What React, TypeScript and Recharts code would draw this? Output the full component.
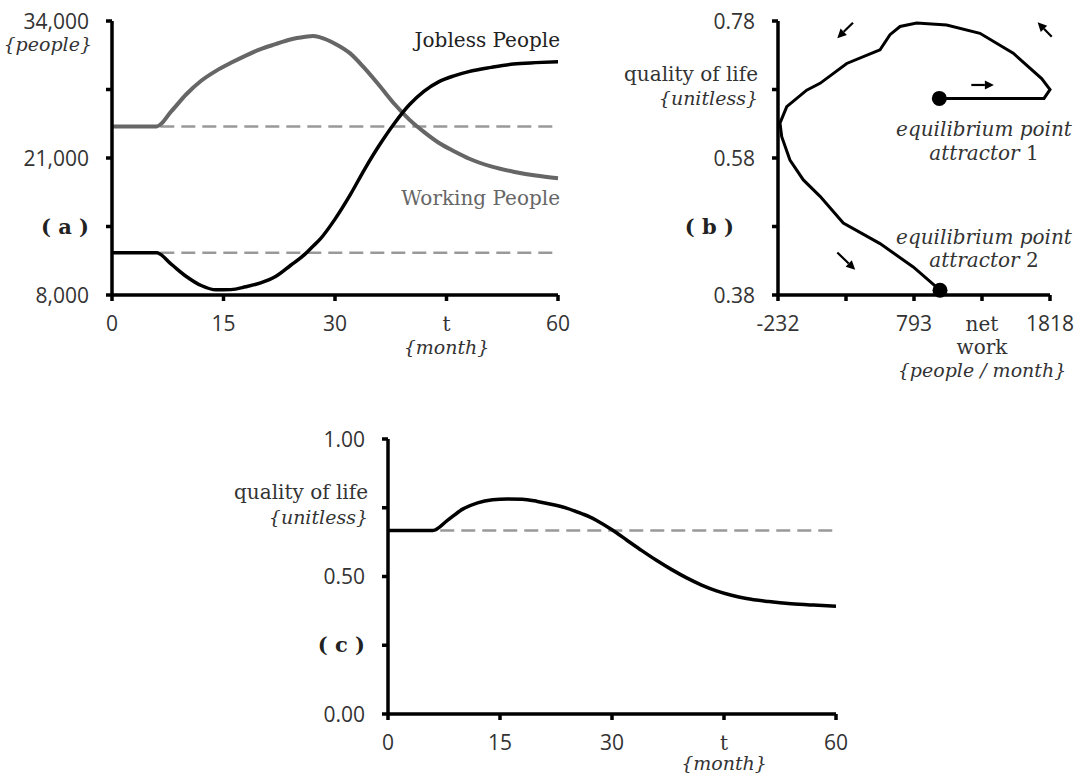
import React from 'react';
import { LineChart, ComposedChart, Line, Scatter, XAxis, YAxis, ReferenceLine } from 'recharts';

// months
const months = [0, 6, 8, 10, 12, 14, 16, 18, 20, 22, 24, 26, 27, 28, 30, 32, 34, 36, 38, 40, 42, 44, 46, 48, 51, 54, 57, 60];
const workingPeople = [24000, 24000, 25450, 27050, 28330, 29270, 30030, 30720, 31330, 31800, 32250, 32500, 32580, 32450, 31850, 30950, 29500, 27850, 26120, 24640, 23450, 22420, 21650, 20950, 20200, 19700, 19330, 19070];
const joblessPeople = [12000, 12000, 10900, 9760, 8900, 8490, 8510, 8780, 9150, 9750, 10800, 11900, 12600, 13300, 15200, 17450, 19950, 22250, 24300, 26050, 27350, 28250, 28800, 29200, 29600, 29920, 30050, 30140];
const qualityOfLife = [0.667, 0.667, 0.705, 0.745, 0.768, 0.779, 0.782, 0.781, 0.773, 0.762, 0.748, 0.728, 0.717, 0.703, 0.670, 0.632, 0.594, 0.558, 0.525, 0.495, 0.469, 0.448, 0.432, 0.420, 0.409, 0.401, 0.396, 0.392];

// phase plot (b): net work vs quality of life, in time order
const netWork = [984, 1773, 1818, 1755, 1541, 1290, 1039, 813, 688, 612, 537, 499, 286, 85, -16, -166, -217, -204, -142, -41, 85, 260, 537, 787, 989];
const qolPath = [0.667, 0.667, 0.680, 0.696, 0.733, 0.762, 0.774, 0.777, 0.772, 0.760, 0.738, 0.735, 0.718, 0.689, 0.679, 0.655, 0.631, 0.611, 0.577, 0.548, 0.524, 0.485, 0.455, 0.421, 0.387];
const attractors = [{ x: 984, y: 0.667 }, { x: 989, y: 0.387 }];
const flowArrows = [
  [[333, 0.7775], [215, 0.755]],
  [[1831, 0.757], [1725, 0.778]],
  [[1225, 0.6866], [1395, 0.6866]],
  [[215, 0.442], [350, 0.417]],
];

const monthTicks = [0, 15, 30, 45, 60];
const monthLabels = ['0', '15', '30', 't', '60'];
const peopleTicks = [8000, 14500, 21000, 27500, 34000];
const peopleLabels = ['8,000', '( a )', '21,000', '', '34,000'];
const qolTicksB = [0.38, 0.48, 0.58, 0.68, 0.78];
const qolLabelsB = ['0.38', '( b )', '0.58', '', '0.78'];
const workTicks = [-232, 280.5, 793, 1305.5, 1818];
const workLabels = ['-232', '', '793', 'net', '1818'];
const qolTicksC = [0, 0.25, 0.5, 0.75, 1];
const qolLabelsC = ['0.00', '( c )', '0.50', '', '1.00'];

const seriesData = months.map((t, i) => ({ t, working: workingPeople[i], jobless: joblessPeople[i], qol: qualityOfLife[i] }));
const pathData = netWork.map((x, i) => ({ x, y: qolPath[i] }));

const SANS = '"Open Sans", "DejaVu Sans", sans-serif';
const SERIF = '"DejaVu Serif", serif';
const INK = '#333';

const txt = (s: string, x: number, y: number, anchor: string, key?: string) => {
  if (s.startsWith('(')) {
    return <text key={key} x={x} y={y + 7} textAnchor={anchor} fontFamily={SERIF} fontWeight="bold" fontSize={21} fill="#222">{s}</text>;
  }
  if (s.startsWith('{')) {
    return <text key={key} x={x} y={y} textAnchor={anchor} fontFamily={SERIF} fontStyle="italic" fontSize={19} fill={INK}>{s}</text>;
  }
  if (/^[-0-9.,]+$/.test(s)) {
    return <text key={key} x={x} y={y} textAnchor={anchor} fontFamily={SANS} fontSize={21} fill={INK}>{s}</text>;
  }
  return <text key={key} x={x} y={y} textAnchor={anchor} fontFamily={SERIF} fontSize={20} fill={INK}>{s}</text>;
};

const yTick = (labels: string[], extra: Record<number, [string, number][]>, panelShift = 0) => (props: any) => {
  const { x, y, index } = props;
  const lbl = labels[index];
  const isPanel = lbl && lbl.startsWith('(');
  return (
    <g>
      {lbl ? txt(lbl, x - 7 + (isPanel ? panelShift : 0), isPanel ? y : y + 7.5, 'end') : null}
      {(extra[index] || []).map(([s, dy], i) => txt(s, x - 4, y + dy, 'end', 'e' + i))}
    </g>
  );
};

const xTick = (labels: string[], extra: Record<number, [string, number][]>) => (props: any) => {
  const { x, y, index } = props;
  const lbl = labels[index];
  return (
    <g>
      {lbl ? txt(lbl, x, y + 28, 'middle') : null}
      {(extra[index] || []).map(([s, dy], i) => txt(s, x, y + dy, 'middle', 'e' + i))}
    </g>
  );
};

const ArrowShape = (props: any) => {
  const { x1, y1, x2, y2 } = props;
  const a = Math.atan2(y2 - y1, x2 - x1);
  const L = 9, W = 4.5;
  const bx = x2 - L * Math.cos(a), by = y2 - L * Math.sin(a);
  const pts = `${x2},${y2} ${bx - W * Math.sin(a)},${by + W * Math.cos(a)} ${bx + W * Math.sin(a)},${by - W * Math.cos(a)}`;
  return (
    <g>
      <line x1={x1} y1={y1} x2={bx} y2={by} stroke="#000" strokeWidth={2.2} />
      <polygon points={pts} fill="#000" />
    </g>
  );
};

const axisStyle = { stroke: '#000', strokeWidth: 3.5 };
const tickStyle = { stroke: '#000', strokeWidth: 3.5 };

export default function App() {
  return (
    <div style={{ position: 'absolute', left: 0, top: 0, width: 1080, height: 776, background: '#fff' }}>
      {/* (a) people */}
      <div style={{ position: 'absolute', left: 0, top: 0 }}>
        <LineChart width={600} height={390} data={seriesData} margin={{ top: 21, right: 42, bottom: 5, left: 0 }}>
          <XAxis dataKey="t" type="number" domain={[0, 60]} ticks={monthTicks} interval={0} height={90}
            axisLine={axisStyle} tickLine={tickStyle} tickSize={6} tick={xTick(monthLabels, { 3: [['{month}', 51]] })} />
          <YAxis type="number" domain={[8000, 34000]} ticks={peopleTicks} interval={0} width={112}
            axisLine={axisStyle} tickLine={tickStyle} tickSize={6} tickMargin={10}
            tick={yTick(peopleLabels, { 4: [['{people}', 30]] })} />
          <ReferenceLine segment={[{ x: 6.5, y: 24000 }, { x: 60, y: 24000 }]} stroke="#999" strokeWidth={2.5} strokeDasharray="14 7" />
          <ReferenceLine segment={[{ x: 6.5, y: 12000 }, { x: 60, y: 12000 }]} stroke="#999" strokeWidth={2.5} strokeDasharray="14 7" />
          <Line type="monotone" dataKey="working" stroke="#666" strokeWidth={4} dot={false} activeDot={false} isAnimationActive={false} />
          <Line type="monotone" dataKey="jobless" stroke="#000" strokeWidth={3.5} dot={false} activeDot={false} isAnimationActive={false} />
        </LineChart>
      </div>

      {/* (b) phase plot */}
      <div style={{ position: 'absolute', left: 600, top: 0 }}>
        <ComposedChart width={480} height={390} margin={{ top: 21, right: 30, bottom: 5, left: 0 }}>
          <XAxis dataKey="x" type="number" domain={[-232, 1818]} ticks={workTicks} interval={0} height={90}
            axisLine={axisStyle} tickLine={tickStyle} tickSize={6}
            tick={xTick(workLabels, { 3: [['work', 51], ['{people / month}', 74]] })} />
          <YAxis dataKey="y" type="number" domain={[0.38, 0.78]} ticks={qolTicksB} interval={0} width={178}
            axisLine={axisStyle} tickLine={tickStyle} tickSize={6} tickMargin={10}
            tick={yTick(qolLabelsB, { 3: [['quality of life', -9], ['{unitless}', 15]] }, -21)} />
          {flowArrows.map((seg, i) => (
            <ReferenceLine key={i} segment={[{ x: seg[0][0], y: seg[0][1] }, { x: seg[1][0], y: seg[1][1] }]}
              ifOverflow="visible" shape={ArrowShape} />
          ))}
          <Line data={pathData} type="linear" dataKey="y" stroke="#000" strokeWidth={3} dot={false} activeDot={false} isAnimationActive={false} />
          <Scatter data={attractors} dataKey="y" fill="#000" isAnimationActive={false}
            shape={(p: any) => <circle cx={p.cx} cy={p.cy} r={7.5} fill="#000" />} />
        </ComposedChart>
      </div>

      {/* (c) quality of life */}
      <div style={{ position: 'absolute', left: 0, top: 400 }}>
        <LineChart width={900} height={376} data={seriesData} margin={{ top: 39, right: 64, bottom: 2, left: 0 }}>
          <XAxis dataKey="t" type="number" domain={[0, 60]} ticks={monthTicks} interval={0} height={60}
            axisLine={axisStyle} tickLine={tickStyle} tickSize={6} tick={xTick(monthLabels, { 3: [['{month}', 48]] })} />
          <YAxis type="number" domain={[0, 1]} ticks={qolTicksC} interval={0} width={388}
            axisLine={axisStyle} tickLine={tickStyle} tickSize={6} tickMargin={10}
            tick={yTick(qolLabelsC, { 3: [['quality of life', -9], ['{unitless}', 16]] })} />
          <ReferenceLine segment={[{ x: 7, y: 0.667 }, { x: 60, y: 0.667 }]} stroke="#999" strokeWidth={2.5} strokeDasharray="14 7" />
          <Line type="monotone" dataKey="qol" stroke="#000" strokeWidth={3.5} dot={false} activeDot={false} isAnimationActive={false} />
        </LineChart>
      </div>

      {/* series names and annotations */}
      <svg width={1080} height={776} style={{ position: 'absolute', left: 0, top: 0, pointerEvents: 'none' }}>
        <text x={560} y={47} textAnchor="end" fontFamily={SERIF} fontSize={20} fill="#222">Jobless People</text>
        <text x={560} y={205} textAnchor="end" fontFamily={SERIF} fontSize={20} fill="#666">Working People</text>
        <g fontFamily={SERIF} fontSize={20} fill={INK} textAnchor="middle">
          <text x={984} y={136} fontStyle="italic">equilibrium point</text>
          <text x={984} y={160}><tspan fontStyle="italic">attractor</tspan> 1</text>
          <text x={984} y={244} fontStyle="italic">equilibrium point</text>
          <text x={984} y={267}><tspan fontStyle="italic">attractor</tspan> 2</text>
        </g>
      </svg>
    </div>
  );
}
